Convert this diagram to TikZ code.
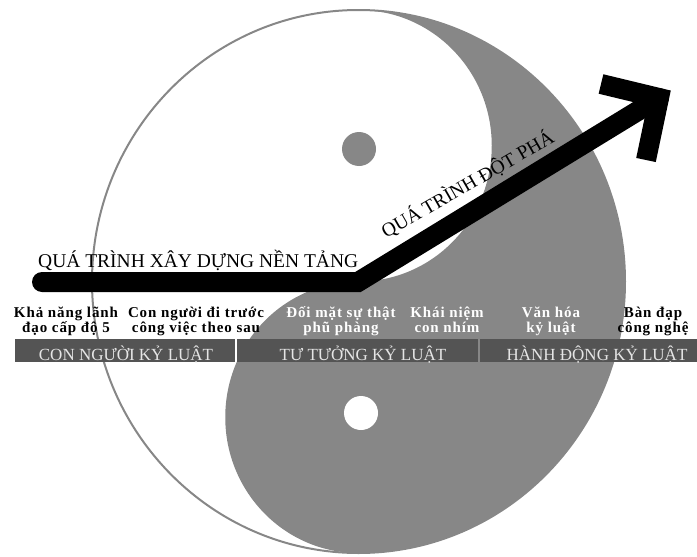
\documentclass[tikz,border=0pt]{standalone}
\usepackage{fontspec}
\setmainfont{Liberation Serif}
\newfontfamily\lblfont[LetterSpace=6.0]{Liberation Serif}
\definecolor{yygray}{rgb}{0.53,0.53,0.53}
\definecolor{bargray}{rgb}{0.33,0.33,0.33}
\definecolor{bartext}{rgb}{0.90,0.90,0.90}
\tikzset{
  big/.style={font=\fontsize{19.5}{22}\selectfont, inner sep=0pt},
  lbl/.style={font=\lblfont\bfseries\fontsize{15}{15}\selectfont, align=center, inner sep=0pt, anchor=base},
  lblw/.style={lbl, text=white},
  barseg/.style={fill=bargray, inner sep=0pt, minimum height=23pt},
  bartxt/.style={font=\fontsize{17}{19}\selectfont, text=bartext, inner sep=0pt, anchor=base},
  thick arrow/.style={line width=20pt, draw=black},
}
\begin{document}
\begin{tikzpicture}[x=1pt,y=-1pt]
\useasboundingbox (0,0) rectangle (697,557);
% yin-yang
\fill[yygray] (358.5,10)
  arc[start angle=-90,end angle=90,x radius=133.25,y radius=135.75]
  arc[start angle=-90,end angle=-270,x radius=133.25,y radius=135.75]
  arc[start angle=90,end angle=-90,x radius=266.5,y radius=271.5] -- cycle;
\draw[yygray, line width=2pt] (358.5,281.5) ellipse[x radius=266.5, y radius=271.5];
\fill[yygray] (359,149) circle[radius=17];
\fill[white] (361,413) circle[radius=17];
% arrow
\coordinate (s) at (42,282);
\coordinate (k) at (358,282);
\coordinate (t) at (659,98);
\coordinate (h1) at (601,84);
\coordinate (h2) at (646,160);
\draw[thick arrow, line cap=round, line join=miter] (s) -- (k) -- (t);
\draw[thick arrow, line cap=butt, line join=miter] (h1) -- (t) -- (h2);
\node[big, anchor=base west] (t1) at (38,267) {QUÁ TRÌNH XÂY DỰNG NỀN TẢNG};
\node[big, anchor=base west, rotate=30] (t2) at (386,239) {QUÁ TRÌNH ĐỘT PHÁ};
% labels
\node[lbl] (a1) at (66,332) {Khả năng lãnh\\đạo cấp độ 5};
\node[lbl] (a2) at (196,332) {Con người đi trước\\công việc theo sau};
\node[lblw] (a3) at (341,332) {Đối mặt sự thật\\phũ phàng};
\node[lblw] (a4) at (447,332) {Khái niệm\\con nhím};
\node[lblw] (a5) at (551,332) {Văn hóa\\kỷ luật};
\node[lbl] (a6) at (653,332) {Bàn đạp\\công nghệ};
% bar
\node[barseg, minimum width=220pt] (b1) at (125,350.5) {};
\node[barseg, minimum width=241pt] (b2) at (357.5,350.5) {};
\node[barseg, minimum width=217pt] (b3) at (588.5,350.5) {};
\node[bartxt] (c1) at (126,360) {CON NGƯỜI KỶ LUẬT};
\node[bartxt] (c2) at (363,360) {TƯ TƯỞNG KỶ LUẬT};
\node[bartxt] (c3) at (597,360) {HÀNH ĐỘNG KỶ LUẬT};
\end{tikzpicture}
\end{document}
